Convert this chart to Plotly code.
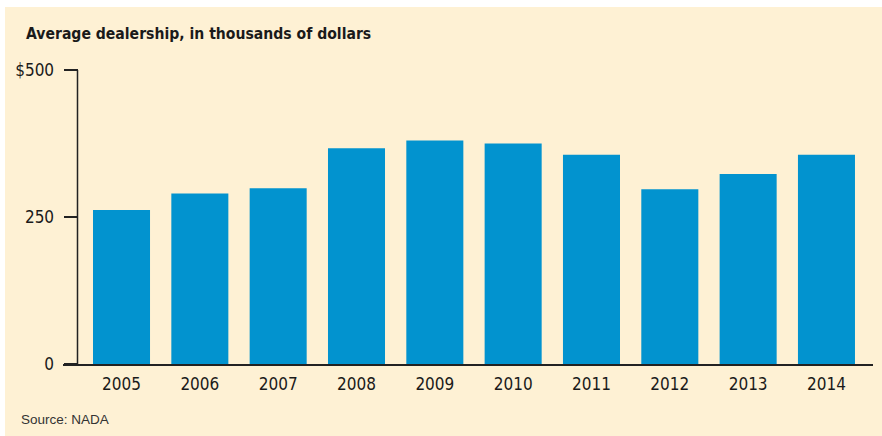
import plotly.graph_objects as go

years = ["2005", "2006", "2007", "2008", "2009", "2010", "2011", "2012", "2013", "2014"]
values = [262, 290, 299, 367, 380, 375, 356, 297, 323, 356]
y_tickvals = [0, 250, 500]
y_ticktext = ["0", "250", "$500"]

W, H = 882, 436
L, R, T, B = 63, 9, 70, 71.5
pw = W - L - R
ph = H - T - B

def px_x(p):
    return (p - L) / pw

def px_y(p):
    return (H - B - p) / ph

font_narrow = "DejaVu Sans Condensed, Liberation Sans Narrow, Arial Narrow, sans-serif"

fig = go.Figure()
fig.add_trace(go.Bar(
    x=list(range(len(years))), y=values,
    marker=dict(color="#0293CF", line=dict(width=0)),
    width=0.728,
    hoverinfo="skip",
))

fig.update_layout(
    width=W, height=H,
    margin=dict(l=L, r=R, t=T, b=B),
    paper_bgcolor="white",
    plot_bgcolor="rgba(0,0,0,0)",
    showlegend=False,
    font=dict(family=font_narrow, size=17, color="#1a1a1a"),
    title=dict(
        text="<b>Average dealership, in thousands of dollars</b>",
        x=26 / W, xanchor="left", xref="container",
        y=1 - 34 / H, yanchor="middle", yref="container",
        font=dict(family=font_narrow, size=15.6, color="#1a1a1a"),
    ),
    xaxis=dict(
        range=[-0.747, 9.594],
        tickvals=list(range(len(years))), ticktext=years,
        showgrid=False, zeroline=False,
        showline=True, linecolor="#222", linewidth=1.5,
        ticks="", ticklabelstandoff=4,
        fixedrange=True,
    ),
    yaxis=dict(
        range=[0, 500],
        tickvals=y_tickvals, ticktext=y_ticktext,
        showgrid=False, zeroline=False,
        showline=False,
        ticks="outside", ticklen=14, tickwidth=1.5, tickcolor="#222",
        anchor="free", position=px_x(77.5),
        ticklabelstandoff=6,
        fixedrange=True,
    ),
    shapes=[
        dict(type="rect", xref="paper", yref="paper",
             x0=px_x(5), x1=px_x(W + 5), y0=px_y(H + 5), y1=px_y(7),
             fillcolor="#FEF1D4", line=dict(width=0), layer="below"),
        dict(type="line", xref="paper", yref="paper",
             x0=px_x(77.5), x1=px_x(77.5), y0=px_y(366), y1=1,
             line=dict(color="#222", width=1.5), layer="above"),
    ],
    annotations=[
        dict(text="Source: NADA", xref="paper", yref="paper",
             x=px_x(19), y=px_y(420), xanchor="left", yanchor="middle",
             showarrow=False,
             font=dict(family="Liberation Sans, Arial, sans-serif", size=13.5, color="#333")),
    ],
)

fig.write_html("out.html", config={"displayModeBar": False},
               post_script="document.body.style.margin='0px';")
